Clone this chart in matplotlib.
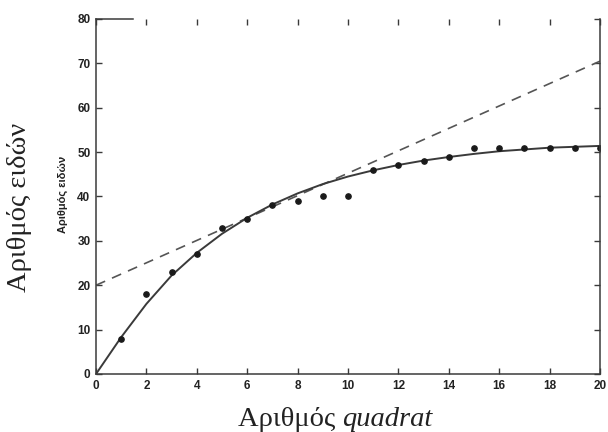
import matplotlib
matplotlib.use("Agg")
import matplotlib.pyplot as plt

# Observed species counts per number of quadrats
quadrats = [1, 2, 3, 4, 5, 6, 7, 8, 9, 10, 11, 12, 13, 14, 15, 16, 17, 18, 19, 20]
species = [8, 18, 23, 27, 33, 35, 38, 39, 40, 40, 46, 47, 48, 49, 51, 51, 51, 51, 51, 51]

# Fitted accumulation curve
curve_x = [0, 1, 2, 3, 4, 5, 6, 7, 8, 9, 10, 11, 12, 13, 14, 15, 16, 17, 18, 19, 20]
curve_y = [0, 8.3, 15.8, 22.2, 27.3, 31.6, 35.2, 38.2, 40.7, 42.8, 44.5,
           45.9, 47.1, 48.1, 48.9, 49.6, 50.2, 50.6, 51.0, 51.2, 51.4]

# Straight reference line (dashed)
line_x = [0, 20]
line_y = [20, 70.5]

x_ticks = [0, 2, 4, 6, 8, 10, 12, 14, 16, 18, 20]
y_ticks = [0, 10, 20, 30, 40, 50, 60, 70, 80]

fig = plt.figure(figsize=(6.08, 4.32), dpi=100)
ax = fig.add_axes([96 / 608, 1 - 374 / 432, 504 / 608, 355 / 432])

ink = "#3a3a3a"
ax.plot(line_x, line_y, linestyle=(0, (6, 4.5)), color="#555555", linewidth=1.2)
ax.plot(curve_x, curve_y, color=ink, linewidth=1.4)
ax.plot(quadrats, species, linestyle="none", marker="o", markersize=3.8,
        color="#1a1a1a")

ax.set_xlim(0, 20)
ax.set_ylim(0, 80)
ax.set_xticks(x_ticks)
ax.set_yticks(y_ticks)

for side in ("left", "right", "bottom", "top"):
    ax.spines[side].set_color(ink)
    ax.spines[side].set_linewidth(1.1)
ax.spines["top"].set_bounds(0, 1.45)

ax.tick_params(axis="both", which="both", direction="in", length=4,
               width=1.0, color=ink, top=True, right=True,
               labelsize=8.5, pad=4, labelcolor="#222222")
for lbl in ax.get_xticklabels() + ax.get_yticklabels():
    lbl.set_fontweight("bold")
    lbl.set_family("Liberation Sans")

# Small inner axis title
fig.text(63 / 608, 1 - 194 / 432, "Αριθμός ειδών", rotation=90,
         ha="center", va="center", fontsize=8, fontweight="bold",
         family="Liberation Sans", color="#222222")

# Large axis titles
fig.text(20 / 608, 1 - 207 / 432, "Αριθμός ειδών", rotation=90,
         ha="center", va="center", fontsize=20.5, family="Liberation Serif",
         color="#222222")

t1 = fig.text(238 / 608, 1 - 426 / 432, "Αριθμός ", ha="left",
              va="baseline", fontsize=20.5, family="Liberation Serif",
              color="#222222")
ax.annotate("quadrat", xy=(1, 0), xycoords=t1, ha="left", va="bottom",
            fontsize=20.5, family="Liberation Serif", style="italic",
            color="#222222", annotation_clip=False)

fig.savefig("out.png", dpi=100, facecolor="white")
